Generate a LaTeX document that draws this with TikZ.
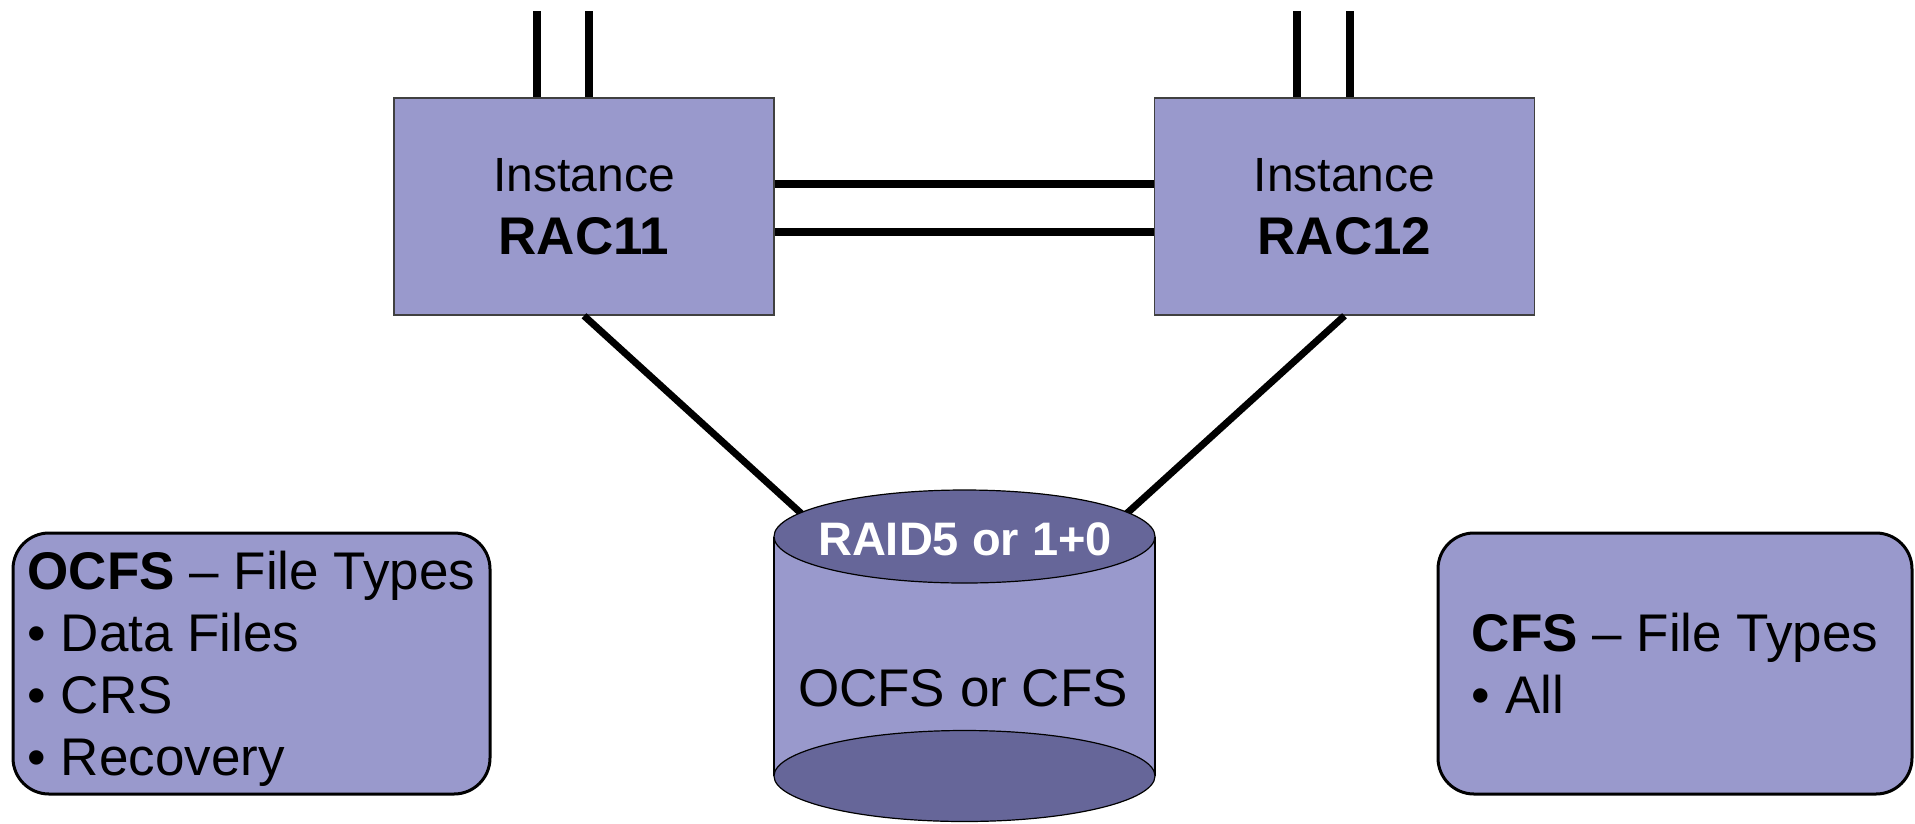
\documentclass[tikz,border=0pt]{standalone}
\usepackage{fontspec}
\setmainfont{Liberation Sans}
\definecolor{boxfill}{HTML}{9999CC}
\definecolor{diskdark}{HTML}{666699}
\begin{document}
\begin{tikzpicture}[x=1pt,y=-1pt,
  inst/.style={draw=black!75, line width=1.5pt, fill=boxfill, minimum width=380pt, minimum height=217pt, inner sep=0pt, align=center, font=\fontsize{48}{63}\selectfont},
  link/.style={line width=8pt},
  diag/.style={line width=7pt},
  diskedge/.style={draw=black, line width=1.2pt},
  ftbox/.style={draw=black, line width=3pt, fill=boxfill, rounded corners=36pt, minimum height=261pt, inner sep=0pt, align=left, text depth=0pt, font=\fontsize{53}{62}\selectfont}
]
\useasboundingbox (0,0) rectangle (1915,823);

% instances
\node[inst] (rac11) at (584,206.5) {Instance\\{\fontsize{53}{63}\selectfont\bfseries RAC11}};
\node[inst] (rac12) at (1344.5,206.5) {Instance\\{\fontsize{53}{63}\selectfont\bfseries RAC12}};

% top lines
\coordinate (t11a) at (537,11);
\coordinate (t11b) at (589,11);
\coordinate (t12a) at (1297,11);
\coordinate (t12b) at (1350,11);
\draw[link] (t11a) -- (t11a |- rac11.north);
\draw[link] (t11b) -- (t11b |- rac11.north);
\draw[link] (t12a) -- (t12a |- rac12.north);
\draw[link] (t12b) -- (t12b |- rac12.north);

% interconnect
\draw[link] ([yshift=22.5pt]rac11.east) -- ([yshift=22.5pt]rac12.west);
\draw[link] ([yshift=-25.5pt]rac11.east) -- ([yshift=-25.5pt]rac12.west);

% diagonals to disk
\coordinate (d1) at (804,516);
\coordinate (d2) at (1124,516);
\draw[diag] (rac11.south) -- (d1);
\draw[diag] (rac12.south) -- (d2);

% disk
\fill[boxfill] (774,536.5) rectangle (1155,776);
\draw[diskedge] (774,536.5) -- (774,776) (1155,536.5) -- (1155,776);
\draw[diskedge, fill=diskdark] (964.5,776) ellipse [x radius=190.5pt, y radius=45.5pt];
\draw[diskedge, fill=diskdark] (964.5,536.5) ellipse [x radius=190.5pt, y radius=46.5pt];
\node[text=white, font=\fontsize{47}{50}\selectfont\bfseries, anchor=base, inner sep=0pt] (raid) at (965,555) {RAID5 or 1+0};
\node[font=\fontsize{53}{60}\selectfont, anchor=base, inner sep=0pt] (fs) at (963,706) {OCFS or CFS};

% file type boxes
\node[ftbox, minimum width=477pt] (ocfs) at (251.5,663.5) {\textbf{OCFS} – File Types\\• Data Files\\• CRS\\• Recovery};
\node[ftbox, minimum width=474pt] (cfs) at (1675,663.5) {\textbf{CFS} – File Types\\• All};
\end{tikzpicture}
\end{document}
